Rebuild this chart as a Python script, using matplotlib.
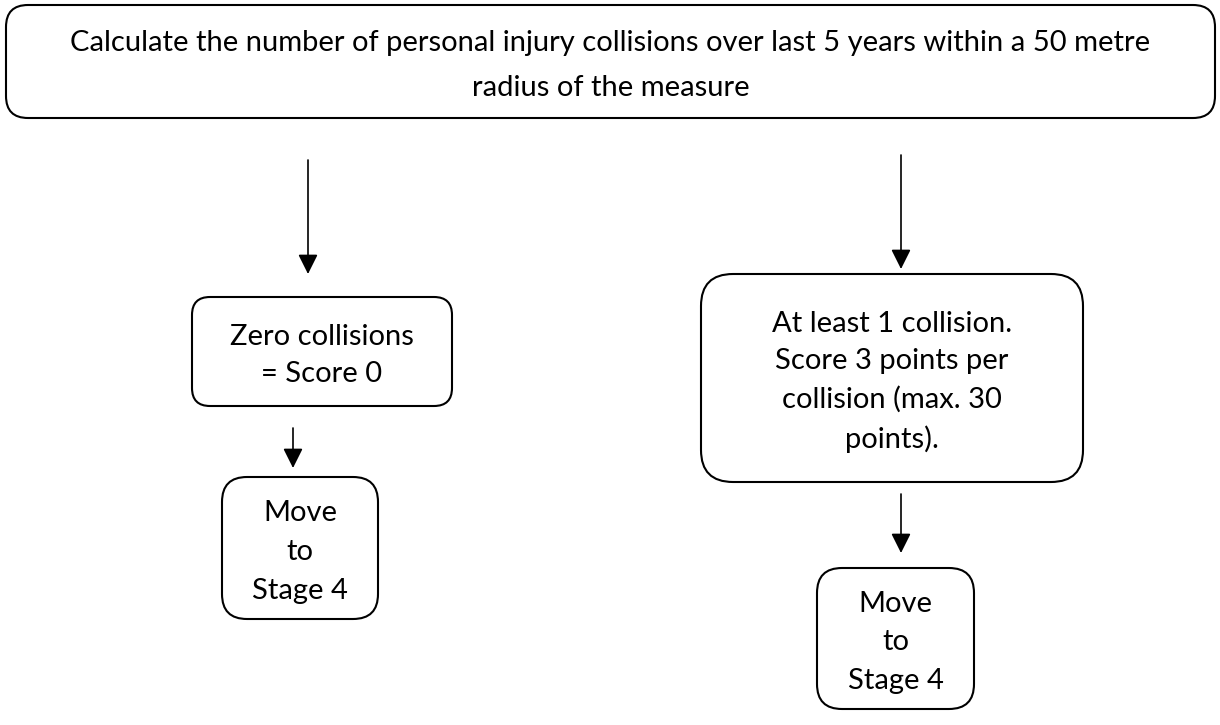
import matplotlib
matplotlib.use("Agg")
import matplotlib.pyplot as plt
from matplotlib.patches import FancyBboxPatch

# box texts
top_text = "Calculate the number of personal injury collisions over last 5 years within a 50 metre\nradius of the measure"
zero_text = "Zero collisions\n= Score 0"
atleast_text = "At least 1 collision.\nScore 3 points per\ncollision (max. 30\npoints)."
move_text = "Move\nto\nStage 4"

labels = [top_text, zero_text, move_text, atleast_text, move_text]

# layout in pixels: left, top, width, height, corner radius, line spacing
box_x = [6, 192, 222, 701, 817]
box_y = [5, 297, 477, 274, 568]
box_w = [1209, 260, 156, 382, 157]
box_h = [113, 109, 142, 208, 141]
box_r = [22, 18, 25, 32, 25]
box_ls = [1.95, 1.5, 1.62, 1.55, 1.6]

# arrows: x, y start, y end
arrow_x = [308, 901, 293, 901]
arrow_y0 = [160, 155, 428, 494]
arrow_y1 = [274, 269, 468, 553]

fig = plt.figure(figsize=(12.2, 7.25), dpi=100)
ax = fig.add_axes([0, 0, 1, 1])
ax.set_xlim(0, 1220)
ax.set_ylim(725, 0)
ax.axis('off')

for lab, x, y, w, h, r, ls in zip(labels, box_x, box_y, box_w, box_h, box_r, box_ls):
    ax.add_patch(FancyBboxPatch((x, y), w, h, boxstyle=f"round,pad=0,rounding_size={r}",
                                fc='white', ec='black', lw=1.5))
    ax.text(x + w / 2, y + h / 2 + 4, lab, ha='center', va='center', fontsize=21,
            family='Lato', linespacing=ls, color='black')

for x, y0, y1 in zip(arrow_x, arrow_y0, arrow_y1):
    ax.annotate('', xy=(x, y1), xytext=(x, y0),
                arrowprops=dict(arrowstyle='-|>,head_length=0.6,head_width=0.3',
                                mutation_scale=20, lw=1.2, color='black',
                                shrinkA=0, shrinkB=0))

fig.savefig('out.png', dpi=100)
